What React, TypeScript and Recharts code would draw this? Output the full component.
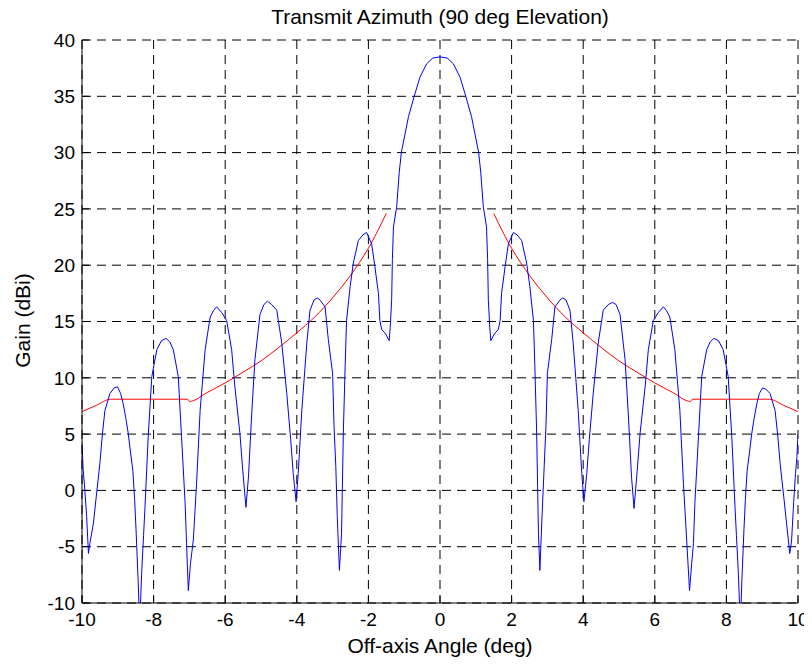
import React from 'react';
import { LineChart, Line, XAxis, YAxis, CartesianGrid } from 'recharts';

const angleTicks = [-10, -8, -6, -4, -2, 0, 2, 4, 6, 8, 10];
const gainTicks = [-10, -5, 0, 5, 10, 15, 20, 25, 30, 35, 40];

// measured antenna pattern, [angle deg, gain dBi]
const patternPoints: [number, number][] = [
  [-10.0, 4.3], [-9.97, 2.0], [-9.92, 0.0], [-9.87, -2.3], [-9.82, -5.6], [-9.78, -4.7],
  [-9.68, -2.9], [-9.6, -0.5], [-9.5, 2.4], [-9.43, 5.0], [-9.36, 7.1], [-9.22, 8.6],
  [-9.1, 9.1], [-9.01, 9.2], [-8.92, 8.6], [-8.85, 7.7], [-8.78, 6.5], [-8.71, 5.1],
  [-8.65, 3.5], [-8.58, 1.8], [-8.53, -0.8], [-8.49, -3.5], [-8.43, -8.2], [-8.39, -12.0],
  [-8.33, -7.1], [-8.28, -4.0], [-8.24, -1.45], [-8.15, 4.8], [-8.05, 10.1], [-7.91, 12.5],
  [-7.78, 13.3], [-7.65, 13.5], [-7.55, 13.2], [-7.45, 12.5], [-7.31, 10.1], [-7.22, 4.8],
  [-7.12, -1.1], [-7.08, -4.7], [-7.03, -8.9], [-6.97, -6.5], [-6.89, -4.4], [-6.8, 0.6],
  [-6.7, 7.1], [-6.56, 12.5], [-6.42, 15.4], [-6.32, 16.0], [-6.24, 16.3], [-6.1, 15.8],
  [-5.96, 15.1], [-5.82, 12.5], [-5.73, 9.2], [-5.59, 5.1], [-5.51, 1.8], [-5.42, -1.5],
  [-5.35, 1.2], [-5.26, 6.8], [-5.17, 11.6], [-5.03, 15.6], [-4.92, 16.5], [-4.82, 16.8],
  [-4.7, 16.5], [-4.56, 16.0], [-4.42, 13.1], [-4.28, 8.6], [-4.17, 4.5], [-4.1, 1.5],
  [-4.02, -1.0], [-3.96, 1.5], [-3.86, 7.1], [-3.72, 13.1], [-3.63, 16.0], [-3.52, 16.9],
  [-3.43, 17.1], [-3.35, 16.9], [-3.21, 16.3], [-3.12, 13.4], [-3.0, 10.4], [-2.96, 5.7],
  [-2.91, 2.1], [-2.87, -2.3], [-2.81, -7.1], [-2.75, -3.8], [-2.7, 5.1], [-2.65, 11.0],
  [-2.61, 15.1], [-2.51, 18.1], [-2.42, 20.2], [-2.28, 22.2], [-2.15, 22.7], [-2.05, 22.9],
  [-1.91, 21.9], [-1.82, 19.9], [-1.72, 17.5], [-1.68, 15.1], [-1.63, 14.3], [-1.52, 13.9],
  [-1.42, 13.3], [-1.39, 14.5], [-1.35, 16.9], [-1.33, 20.5], [-1.3, 23.4], [-1.21, 25.2],
  [-1.14, 28.2], [-1.08, 30.0], [-0.88, 33.2], [-0.72, 35.0], [-0.56, 36.7], [-0.37, 37.9],
  [-0.2, 38.4], [0.0, 38.5],
  [0.2, 38.4], [0.37, 37.9], [0.56, 36.7], [0.72, 35.0], [0.88, 33.2], [1.08, 30.0],
  [1.14, 28.2], [1.21, 25.2], [1.3, 23.4], [1.33, 20.5], [1.35, 16.9], [1.39, 14.5],
  [1.42, 13.3], [1.52, 13.9], [1.63, 14.3], [1.68, 15.1], [1.72, 17.5], [1.82, 19.9],
  [1.91, 21.9], [2.05, 22.9], [2.15, 22.7], [2.28, 22.2], [2.42, 20.2], [2.51, 18.1],
  [2.61, 15.1], [2.65, 11.0], [2.7, 5.1], [2.75, -3.8], [2.79, -7.1], [2.85, -2.3],
  [2.91, 2.1], [2.96, 5.7], [3.0, 10.4], [3.12, 13.4], [3.21, 16.3], [3.35, 16.9],
  [3.43, 17.1], [3.52, 16.9], [3.63, 16.0], [3.72, 13.1], [3.86, 7.1], [3.96, 1.5],
  [4.02, -1.0], [4.1, 1.5], [4.17, 4.5], [4.28, 8.6], [4.42, 13.1], [4.56, 16.0],
  [4.7, 16.5], [4.82, 16.7], [4.92, 16.5], [5.03, 15.6], [5.17, 11.6], [5.26, 6.8],
  [5.35, 1.2], [5.42, -1.6], [5.51, 1.8], [5.59, 5.1], [5.73, 9.2], [5.82, 12.5],
  [5.96, 15.1], [6.1, 15.8], [6.24, 16.3], [6.32, 16.0], [6.42, 15.4], [6.56, 12.5],
  [6.7, 7.1], [6.8, 0.6], [6.89, -4.4], [6.97, -8.9], [7.03, -6.5], [7.08, -4.7],
  [7.12, -1.1], [7.22, 4.8], [7.31, 10.1], [7.45, 12.5], [7.55, 13.2], [7.65, 13.5],
  [7.78, 13.3], [7.91, 12.5], [8.05, 10.1], [8.15, 4.8], [8.24, -1.45], [8.28, -4.0],
  [8.33, -7.1], [8.39, -12.0], [8.43, -8.2], [8.49, -3.5], [8.53, -0.8], [8.58, 1.8],
  [8.65, 3.5], [8.71, 5.1], [8.78, 6.5], [8.85, 7.7], [8.92, 8.6], [9.01, 9.1],
  [9.1, 9.0], [9.22, 8.6], [9.36, 7.1], [9.43, 5.0], [9.5, 2.4], [9.6, -0.5],
  [9.68, -2.9], [9.77, -5.6], [9.82, -4.5], [9.88, -1.0], [9.93, 1.5], [9.97, 3.0],
  [10.0, 5.0],
];

// sidelobe envelope, left and right branches
const maskLeftPoints: [number, number][] = [
  [-10.0, 7.0], [-9.6, 7.55], [-9.2, 8.1], [-7.05, 8.1], [-7.0, 7.9], [-6.5, 8.7],
  [-6.0, 9.55], [-5.5, 10.5], [-5.0, 11.5], [-4.5, 12.7], [-4.0, 14.0], [-3.5, 15.4],
  [-3.0, 17.1], [-2.5, 19.1], [-2.0, 21.5], [-1.5, 24.6],
];
const maskRightPoints: [number, number][] = [
  [1.5, 24.6], [2.0, 21.5], [2.5, 19.1], [3.0, 17.1], [3.5, 15.4], [4.0, 14.0],
  [4.5, 12.7], [5.0, 11.5], [5.5, 10.5], [6.0, 9.55], [6.5, 8.7], [7.0, 7.9],
  [7.05, 8.1], [9.2, 8.1], [9.6, 7.55], [10.0, 7.0],
];

const toRows = (pts: [number, number][]) => pts.map(([angle, gain]) => ({ angle, gain }));

const patternData = toRows(patternPoints);
const maskLeftData = toRows(maskLeftPoints);
const maskRightData = toRows(maskRightPoints);

const FONT = '"Liberation Sans", Arial, Helvetica, sans-serif';
const tickStyle = { fill: '#000', fontSize: 19, fontFamily: FONT };

export default function App() {
  return (
    <div style={{ position: 'relative', width: 804, height: 658, fontFamily: FONT, color: '#000' }}>
      <div
        style={{
          position: 'absolute', left: 74, width: 716, top: -2,
          textAlign: 'center', fontSize: 21, lineHeight: '21px',
        }}
      >
        Transmit Azimuth (90 deg Elevation)
      </div>
      <LineChart width={804} height={658} margin={{ top: 32, right: 14, bottom: 0, left: 0 }}>
        <CartesianGrid stroke="#000" strokeDasharray="9 6" />
        <XAxis
          dataKey="angle" type="number" domain={[-10, 10]} ticks={angleTicks} allowDataOverflow
          interval={0} height={63} tickSize={-7} tickMargin={17}
          stroke="#000" tick={tickStyle}
        />
        <YAxis
          type="number" domain={[-10, 40]} ticks={gainTicks} allowDataOverflow
          interval={0} width={74} tickSize={-7} tickMargin={14}
          stroke="#000" tick={tickStyle}
        />
        <XAxis
          xAxisId="top" orientation="top" type="number" domain={[-10, 10]} ticks={angleTicks}
          allowDataOverflow interval={0} height={0} tickSize={-7} tick={false} stroke="#000"
        />
        <YAxis
          yAxisId="right" orientation="right" type="number" domain={[-10, 40]} ticks={gainTicks}
          allowDataOverflow interval={0} width={0} tickSize={-7} tick={false} stroke="#000"
        />
        <Line
          data={maskLeftData} dataKey="gain" type="monotone" stroke="#ff0000" strokeWidth={1}
          dot={false} activeDot={false} isAnimationActive={false}
        />
        <Line
          data={maskRightData} dataKey="gain" type="monotone" stroke="#ff0000" strokeWidth={1}
          dot={false} activeDot={false} isAnimationActive={false}
        />
        <Line
          data={patternData} dataKey="gain" type="linear" stroke="#0000ff" strokeWidth={1}
          dot={false} activeDot={false} isAnimationActive={false}
        />
      </LineChart>
      <div
        style={{
          position: 'absolute', left: 74, width: 716, top: 627,
          textAlign: 'center', fontSize: 21, lineHeight: '21px',
        }}
      >
        Off-axis Angle (deg)
      </div>
      <div
        style={{
          position: 'absolute', left: 14, top: 313, width: 0, height: 0,
        }}
      >
        <div
          style={{
            position: 'absolute', left: -100, top: -11, width: 200, textAlign: 'center',
            fontSize: 21, lineHeight: '21px', transform: 'rotate(-90deg)',
          }}
        >
          Gain (dBi)
        </div>
      </div>
    </div>
  );
}
